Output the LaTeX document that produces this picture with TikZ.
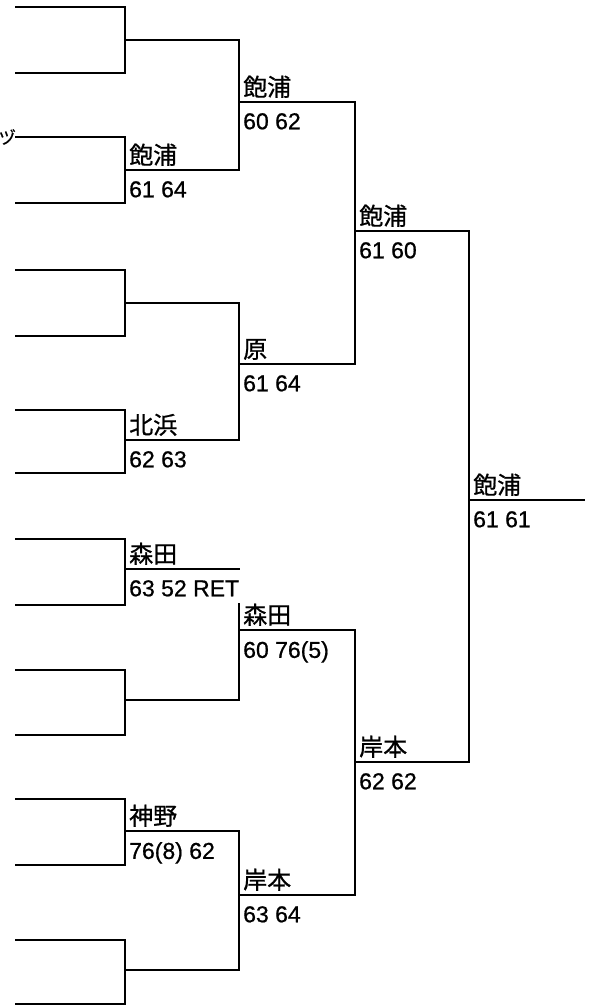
\documentclass[tikz,border=0pt]{standalone}
\usepackage{fontspec}
\setmainfont{Liberation Sans}[FakeBold=0.8]
\newfontfamily\jpfont{Noto Sans CJK JP}[FakeBold=0.8]
\usetikzlibrary{positioning}

\begin{document}
\begin{tikzpicture}[x=1pt,y=-1pt,
  wire/.style={line width=2.2pt},
  who/.style={inner sep=0pt,font=\jpfont\fontsize{24}{26}\selectfont},
  score/.style={inner sep=0pt,font=\fontsize{23}{26}\selectfont}]
  \useasboundingbox (0,0) rectangle (595,1006);
  % first round
  \foreach \i/\t/\b/\m in {1/7/73/40,2/137/203/170,3/270/336/303,4/410/473/440,
                           5/539/605/569,6/670/735/700,7/799/865/831,8/940/1004/970}{
    \coordinate (t\i) at (15,\t);
    \coordinate (b\i) at (15,\b);
    \coordinate (j\i) at (125,\m);
    \draw[wire] (t\i) -| (j\i) |- (b\i);
  }
  \coordinate (k1) at (239,102);
  \coordinate (k2) at (239,364);
  \coordinate (k3) at (239,630);
  \coordinate (k4) at (239,895);
  \coordinate (e5) at (240,569);
  \coordinate (g3) at (239,603);
  \coordinate (m1) at (355,231);
  \coordinate (m2) at (355,762);
  \coordinate (f) at (469,500);
  \coordinate (champ) at (585,500);
  \draw[wire] (j1) -| (k1) |- (j2);
  \draw[wire] (j3) -| (k2) |- (j4);
  \draw[wire] (j5) -- (e5);
  \draw[wire] (g3) |- (j6);
  \draw[wire] (j7) -| (k4) |- (j8);
  \draw[wire] (k1) -| (m1) |- (k2);
  \draw[wire] (k3) -| (m2) |- (k4);
  \draw[wire] (m1) -| (f) |- (m2);
  \draw[wire] (f) -- (champ);
  \node[who,anchor=east,font=\jpfont\fontsize{17}{19}\selectfont] (cut) at (16,137) {ヅ};
  % winners
  \node[who,above right=4pt and 4pt of j2] (w2) {飽浦};
  \node[score,below right=11pt and 4pt of j2] (s2) {61 64};
  \node[who,above right=4pt and 4pt of j4] (w4) {北浜};
  \node[score,below right=11pt and 4pt of j4] (s4) {62 63};
  \node[who,above right=4pt and 4pt of j5] (w5) {森田};
  \node[score,below right=11pt and 4pt of j5] (s5) {63 52 RET};
  \node[who,above right=4pt and 4pt of j7] (w7) {神野};
  \node[score,below right=11pt and 4pt of j7] (s7) {76(8) 62};
  \node[who,above right=4pt and 4pt of k1] (wk1) {飽浦};
  \node[score,below right=11pt and 4pt of k1] (sk1) {60 62};
  \node[who,above right=4pt and 4pt of k2] (wk2) {原};
  \node[score,below right=11pt and 4pt of k2] (sk2) {61 64};
  \node[who,above right=4pt and 4pt of k3] (wk3) {森田};
  \node[score,below right=11pt and 4pt of k3] (sk3) {60 76(5)};
  \node[who,above right=4pt and 4pt of k4] (wk4) {岸本};
  \node[score,below right=11pt and 4pt of k4] (sk4) {63 64};
  \node[who,above right=4pt and 4pt of m1] (wm1) {飽浦};
  \node[score,below right=11pt and 4pt of m1] (sm1) {61 60};
  \node[who,above right=4pt and 4pt of m2] (wm2) {岸本};
  \node[score,below right=11pt and 4pt of m2] (sm2) {62 62};
  \node[who,above right=4pt and 4pt of f] (wf) {飽浦};
  \node[score,below right=11pt and 4pt of f] (sf) {61 61};
\end{tikzpicture}
\end{document}
